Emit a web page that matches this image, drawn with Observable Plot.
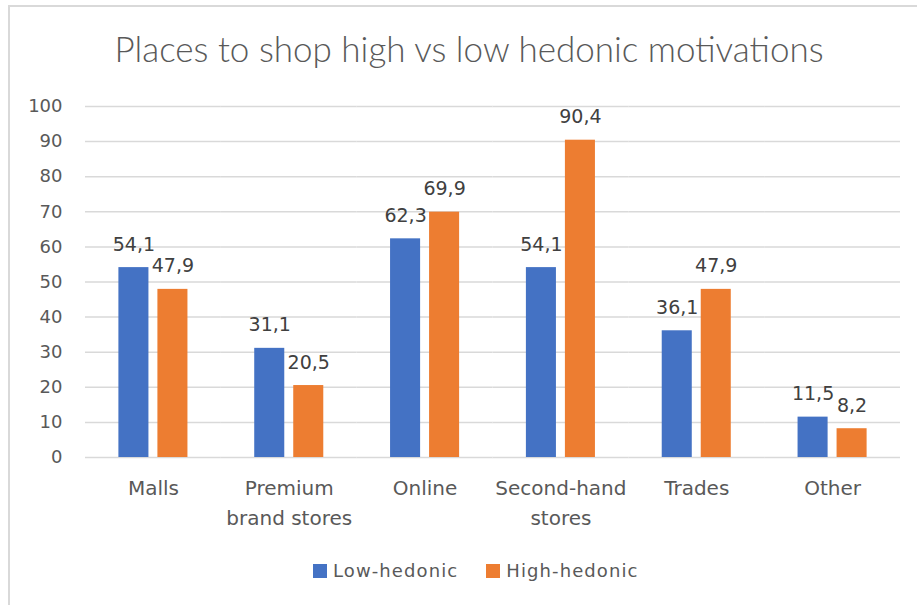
<!DOCTYPE html>
<html>
<head>
<meta charset="utf-8">
<script src="https://cdn.jsdelivr.net/npm/d3@7"></script>
<script src="https://cdn.jsdelivr.net/npm/@observablehq/plot@0.6"></script>
<style>
  html, body { margin: 0; padding: 0; background: #fff; }
  #wrap { position: relative; width: 917px; height: 605px; overflow: hidden; font-family: "DejaVu Sans", sans-serif; color: #595959; }
  #frame { position: absolute; left: 8px; top: 5px; width: 920px; height: 610px; border-top: 2px solid #d9d9d9; border-left: 2px solid #d9d9d9; box-sizing: border-box; }
  #title { position: absolute; left: 0; width: 938px; top: 27px; text-align: center; font-family: Lato, sans-serif; font-size: 35px; font-weight: 300; }
  #chart { position: absolute; left: 0; top: 90px; }
  #legend { position: absolute; top: 560px; left: 313px; display: flex; align-items: center; font-size: 18px; letter-spacing: 1.1px; white-space: nowrap; }
  .sw { display: inline-block; width: 14px; height: 14px; margin-right: 6px; }
</style>
</head>
<body>
<div id="wrap">
  <div id="frame"></div>
  <div id="title">Places to shop high vs low hedonic motivations</div>
  <div id="chart"></div>
  <div id="legend"></div>
</div>
<script>
const categories = ["Malls", "Premium\nbrand stores", "Online", "Second-hand\nstores", "Trades", "Other"];
const series = ["Low-hedonic", "High-hedonic"];
const lowValues = [54.1, 31.1, 62.3, 54.1, 36.1, 11.5];
const highValues = [47.9, 20.5, 69.9, 90.4, 47.9, 8.2];
const yTicks = [0, 10, 20, 30, 40, 50, 60, 70, 80, 90, 100];
const colors = ["#4472C4", "#ED7D31"];

const data = [];
categories.forEach((c, i) => {
  data.push({category: c, series: series[0], value: lowValues[i]});
  data.push({category: c, series: series[1], value: highValues[i]});
});
const fmt = v => d3.format(".1f")(v).replace(".", ",");

const chart = Plot.plot({
  width: 917,
  height: 457,
  marginLeft: 85,
  marginRight: 17,
  marginTop: 16,
  marginBottom: 90,
  style: {fontFamily: "'DejaVu Sans', sans-serif", color: "#595959", background: "transparent"},
  fx: {domain: categories, paddingInner: 0, paddingOuter: 0, round: false, label: null},
  x: {domain: series, paddingInner: 0.23, paddingOuter: 0.856, round: false, axis: null},
  y: {domain: [0, 100], label: null},
  color: {domain: series, range: colors},
  marks: [
    Plot.ruleY(yTicks, {stroke: "#d9d9d9", strokeWidth: 1.5}),
    Plot.axisY({ticks: yTicks, tickSize: 0, tickPadding: 23, fontSize: 18, fill: "#595959", label: null}),
    Plot.axisFx({anchor: "bottom", tickSize: 0, tickPadding: 16, fontSize: 20, lineHeight: 1.5, fill: "#595959", label: null}),
    Plot.barY(data, {fx: "category", x: "series", y: "value", fill: "series"}),
    Plot.text(data, {fx: "category", x: "series", y: "value", text: d => fmt(d.value), dy: -17, lineAnchor: "bottom", fontSize: 19, fill: "#404040"})
  ]
});
document.getElementById("chart").appendChild(chart);

const legend = document.getElementById("legend");
series.forEach((s, i) => {
  const item = document.createElement("span");
  item.style.display = "inline-flex";
  item.style.alignItems = "center";
  item.style.marginRight = i === 0 ? "28px" : "0";
  item.innerHTML = `<span class="sw" style="background:${colors[i]}"></span>${s}`;
  legend.appendChild(item);
});
</script>
</body>
</html>
